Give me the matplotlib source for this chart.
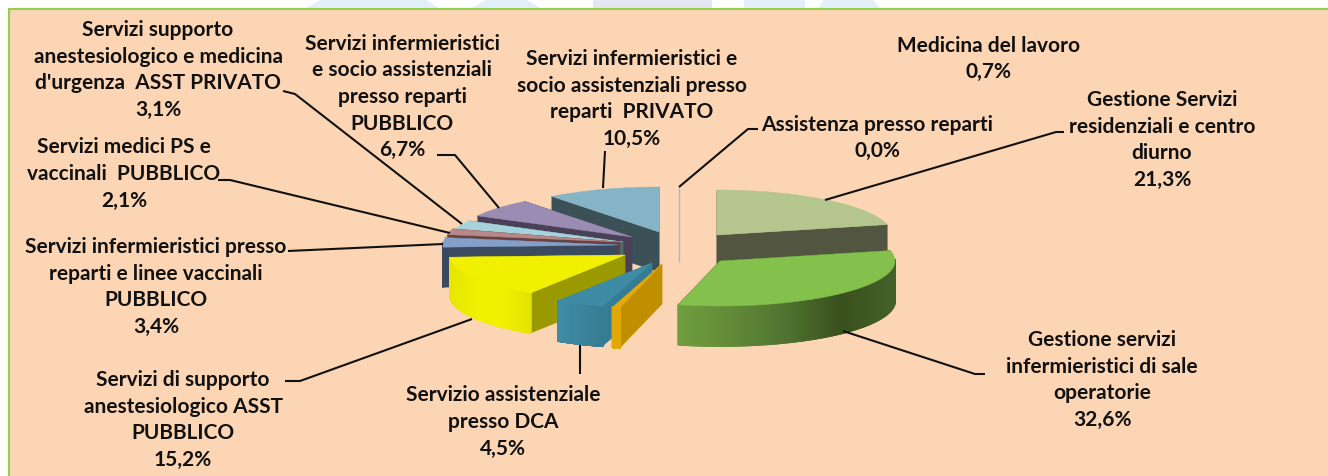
import numpy as np
import matplotlib.pyplot as plt
from matplotlib.colors import to_rgb
from matplotlib.patches import Polygon, Rectangle

values = [21.3, 32.6, 0.7, 4.5, 15.2, 3.4, 2.1, 3.1, 6.7, 10.5, 0.0]
names = [
    "Gestione Servizi\nresidenziali e centro\ndiurno",
    "Gestione servizi\ninfermieristici di sale\noperatorie",
    "Medicina del lavoro",
    "Servizio assistenziale\npresso DCA",
    "Servizi di supporto\nanestesiologico ASST\nPUBBLICO",
    "Servizi infermieristici presso\nreparti e linee vaccinali\nPUBBLICO",
    "Servizi medici PS e\nvaccinali  PUBBLICO",
    "Servizi supporto\nanestesiologico e medicina\nd'urgenza  ASST PRIVATO",
    "Servizi infermieristici\ne socio assistenziali\npresso reparti\nPUBBLICO",
    "Servizi infermieristici e\nsocio assistenziali presso\nreparti  PRIVATO",
    "Assistenza presso reparti",
]

# layout, one entry per slice, in pixels of the 1328x477 picture
label_pos = [(1162, 140), (1102, 380), (989, 59), (503, 422), (183, 420), (156, 287),
             (124, 174), (158, 70), (402, 97), (632, 99), (877, 138)]
tips = [(717, 236), (720, 262), (662, 265), (652, 264), (625, 256), (618, 246),
        (620, 243), (623, 243), (632, 238), (659, 233), (679, 233)]
top_colors = ["#b5c58e", "#84c04c", "#e3a90a", "#3e8ba6", "#f0f000", "#84a0c8",
              "#b88888", "#a6d2dc", "#9a8cb2", "#85b4c6", "#a9b8c4"]
wall_colors = ["#525540", "#3a511e", "#bf8f00", "#347d94", "#9a9a00", "#3c4a5f",
               "#6b4040", "#4a6f74", "#4a4058", "#3c5058", "#a9b8c4"]
outer_stops = {
    1: ["#6f9e3e", "#628a38", "#4f7230", "#3a511e", "#44622a"],
    2: ["#e0a800", "#e0a800"],
    3: ["#3f8ca6", "#367c92"],
    4: ["#e6e600", "#f0f000", "#f0f000", "#e2e200"],
    5: ["#3c4a5f", "#3c4a5f"],
}
leaders = [
    [(1064, 133), (1056, 133), (825, 201)],
    [(985, 375), (975, 375), (843, 332)],
    [],
    [(580, 375), (580, 346)],
    [(285, 382), (300, 382), (472, 320)],
    [(288, 252), (443, 245)],
    [(218, 181), (230, 181), (450, 234)],
    [(283, 92), (295, 95), (462, 225)],
    [(437, 156), (455, 156), (499, 209)],
    [(605, 152), (603, 189)],
    [(758, 130), (748, 130), (679, 188)],
]
watermark = [
    ([305, 440, 425, 322], "#e2eff9"),
    ([470, 542, 525, 487], "#e2eff9"),
    ([593, 712, 712, 593], "#e6e6f3"),
    ([744, 805, 805, 744], "#e2eff9"),
    ([818, 881, 872, 824], "#e2eff9"),
]

rx, ry, depth = 175, 45, 40
samples = 240

fig = plt.figure(figsize=(13.28, 4.77), dpi=100)
ax = fig.add_axes([0, 0, 1, 1])
ax.set_xlim(0, 1328)
ax.set_ylim(477, 0)
ax.axis("off")

for xs, col in watermark:
    ax.add_patch(Polygon([(xs[0], 10), (xs[1], 10), (xs[2], 0), (xs[3], 0)], color=col, lw=0))
ax.add_patch(Rectangle((9, 10), 1325, 470, facecolor="#fcd5b5", edgecolor="#92d050", lw=1.5))


def arc(tip, a0, a1):
    t = np.radians(np.linspace(a0, a1, samples))
    return tip[0] + rx * np.sin(t), tip[1] - ry * np.cos(t)


def blend(stops, f):
    rgb = np.array([to_rgb(c) for c in stops])
    pos = np.linspace(0, 1, len(stops))
    return [np.interp(f, pos, rgb[:, i]) for i in range(3)]


def draw_slice(i, a0, a1):
    tip = tips[i]
    d = depth
    xa, ya = arc(tip, a0, a1)
    # radial walls first, the top and the rim cover whatever is hidden
    for k in (0, -1):
        ax.add_patch(Polygon([tip, (xa[k], ya[k]), (xa[k], ya[k] + d), (tip[0], tip[1] + d)],
                             color=wall_colors[i], lw=0.3, zorder=i_order[i]))
    # rim, only the part facing the viewer
    front = np.cos(np.radians(np.linspace(a0, a1, samples))) < 0.05
    idx = np.where(front)[0]
    stops = outer_stops.get(i)
    if stops is not None and len(idx) > 1:
        x_lo, x_hi = xa[idx].min(), xa[idx].max()
        for j, k in zip(idx[:-1], idx[1:]):
            f = ((xa[j] + xa[k]) / 2 - x_lo) / max(x_hi - x_lo, 1)
            ax.add_patch(Polygon([(xa[j], ya[j]), (xa[k], ya[k]), (xa[k], ya[k] + d), (xa[j], ya[j] + d)],
                                 color=blend(stops, f), lw=1.2, zorder=i_order[i]))
    ax.add_patch(Polygon(list(zip(xa, ya)) + [tip], color=top_colors[i], lw=0.3,
                         zorder=i_order[i] + 0.5))


# painter's order, back slices first
i_order = {9: 2, 8: 3, 7: 4, 6: 5, 5: 6, 4: 7, 3: 8, 2: 9, 0: 10, 1: 11, 10: 1}
edges = np.concatenate([[0], np.cumsum(values)]) / sum(values) * 360
for i in range(len(values)):
    if values[i] > 0:
        draw_slice(i, edges[i], edges[i + 1])
    else:
        # empty slice is only a thin sliver
        ax.plot([tips[i][0], tips[i][0]], [tips[i][1] - ry, tips[i][1] + 29],
                color=top_colors[i], lw=1, zorder=i_order[i])

for pts in leaders:
    if pts:
        ax.plot(*zip(*pts), color="#111111", lw=1.5, zorder=20, solid_capstyle="butt")

for name, v, (x, y) in zip(names, values, label_pos):
    txt = name + "\n" + f"{v:.1f}".replace(".", ",") + "%"
    ax.text(x, y, txt, ha="center", va="center", ma="center", family="Lato", weight="bold",
            fontsize=15, linespacing=1.41, color="#111111", zorder=30)

fig.savefig("out.png", dpi=100)
